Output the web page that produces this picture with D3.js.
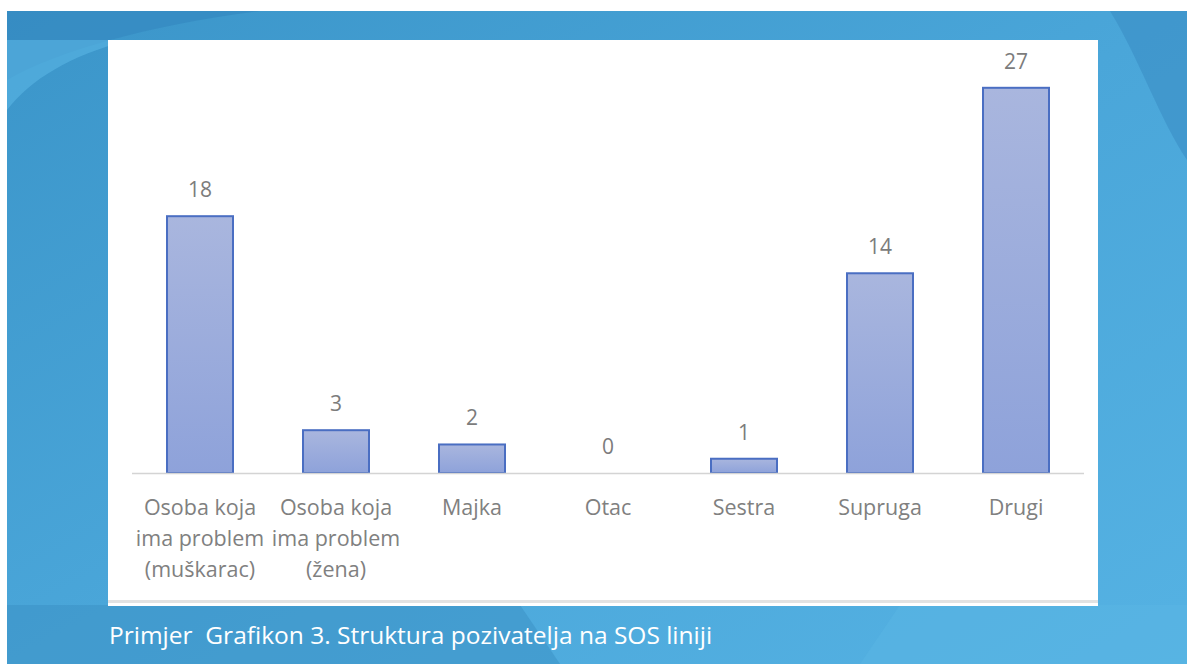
<!DOCTYPE html>
<html>
<head>
<meta charset="utf-8" />
<script src="https://cdn.jsdelivr.net/npm/d3@7"></script>
<style>
html, body { margin: 0; padding: 0; background: #fff; }
svg { display: block; }
.val { font-family: "Open Sans", sans-serif; font-size: 21px; fill: #7c7c7c; text-anchor: middle; }
.cat { font-family: "Open Sans", sans-serif; font-size: 21.5px; fill: #808080; text-anchor: middle; }
.caption { font-family: "Open Sans", sans-serif; font-size: 24.5px; fill: #ffffff; white-space: pre; }
</style>
</head>
<body>
<script>
// chart data
var categories = [
  ["Osoba koja", "ima problem", "(muškarac)"],
  ["Osoba koja", "ima problem", "(žena)"],
  ["Majka"], ["Otac"], ["Sestra"], ["Supruga"], ["Drugi"]
];
var values = [18, 3, 2, 0, 1, 14, 27];
var caption = "Primjer  Grafikon 3. Struktura pozivatelja na SOS liniji";

var W = 1187, H = 664;
var svg = d3.select("body").append("svg").attr("width", W).attr("height", H);
var defs = svg.append("defs");

var bg = defs.append("linearGradient").attr("id", "bg")
  .attr("x1", 0).attr("y1", 0).attr("x2", 1).attr("y2", 1);
bg.append("stop").attr("offset", "0%").attr("stop-color", "#3b95c9");
bg.append("stop").attr("offset", "50%").attr("stop-color", "#4aa6d9");
bg.append("stop").attr("offset", "100%").attr("stop-color", "#55b2e3");

var barg = defs.append("linearGradient").attr("id", "barg")
  .attr("x1", 0).attr("y1", 0).attr("x2", 0).attr("y2", 1);
barg.append("stop").attr("offset", "0%").attr("stop-color", "#a9b6de");
barg.append("stop").attr("offset", "100%").attr("stop-color", "#8ea2da");

// blue backdrop
svg.append("rect").attr("x", 7).attr("y", 11).attr("width", W - 7).attr("height", H - 11)
  .attr("fill", "url(#bg)");

var waves = svg.append("g");
waves.append("path")
  .attr("d", "M7,80 C60,50 150,25 260,11 L7,11 Z")
  .attr("fill", "#3589c0").attr("opacity", 0.7);
waves.append("path")
  .attr("d", "M7,110 C30,80 70,55 130,40 L7,40 Z")
  .attr("fill", "#5ab6e4").attr("opacity", 0.6);
waves.append("path")
  .attr("d", "M1110,11 C1140,60 1160,120 1187,160 L1187,11 Z")
  .attr("fill", "#3a8ec4").attr("opacity", 0.6);
waves.append("path")
  .attr("d", "M7,605 L520,605 L560,664 L7,664 Z")
  .attr("fill", "#3a90c4").attr("opacity", 0.5);
waves.append("path")
  .attr("d", "M900,605 L1187,605 L1187,664 L860,664 Z")
  .attr("fill", "#5ab6e4").attr("opacity", 0.5);

// white chart panel
svg.append("rect").attr("x", 108).attr("y", 40).attr("width", 990).attr("height", 566)
  .attr("fill", "#ffffff");
svg.append("rect").attr("x", 108).attr("y", 600).attr("width", 990).attr("height", 3)
  .attr("fill", "#e2e2e2");

var x = d3.scaleBand()
  .domain(d3.range(values.length))
  .range([132, 1084])
  .paddingInner(0.5)
  .paddingOuter(0.25);
var y = d3.scaleLinear().domain([0, 30]).range([473, 45]);

var chart = svg.append("g");

chart.selectAll("rect.bar").data(values).enter().append("rect")
  .attr("class", "bar")
  .attr("x", function(d, i) { return x(i) + 1; })
  .attr("y", function(d) { return y(d); })
  .attr("width", x.bandwidth() - 2)
  .attr("height", function(d) { return y(0) - y(d); })
  .attr("fill", "url(#barg)")
  .attr("stroke", "#4a6ec2")
  .attr("stroke-width", function(d) { return d > 0 ? 2 : 0; });

// axis line
chart.append("line")
  .attr("x1", x.range()[0]).attr("x2", x.range()[1])
  .attr("y1", y(0) + 0.5).attr("y2", y(0) + 0.5)
  .attr("stroke", "#d4d4d4").attr("stroke-width", 1.5);

chart.selectAll("text.val").data(values).enter().append("text")
  .attr("class", "val")
  .attr("x", function(d, i) { return x(i) + x.bandwidth() / 2; })
  .attr("y", function(d) { return y(d) - 19; })
  .text(function(d) { return d; });

var cats = chart.selectAll("text.cat").data(categories).enter().append("text")
  .attr("class", "cat")
  .attr("x", function(d, i) { return x(i) + x.bandwidth() / 2; })
  .attr("y", 515);
cats.selectAll("tspan").data(function(d) { return d; }).enter().append("tspan")
  .attr("x", function() { return d3.select(this.parentNode).attr("x"); })
  .attr("dy", function(d, i) { return i === 0 ? 0 : 31; })
  .text(function(d) { return d; });

svg.append("text").attr("class", "caption")
  .attr("x", 109).attr("y", 644)
  .text(caption);
</script>
</body>
</html>
